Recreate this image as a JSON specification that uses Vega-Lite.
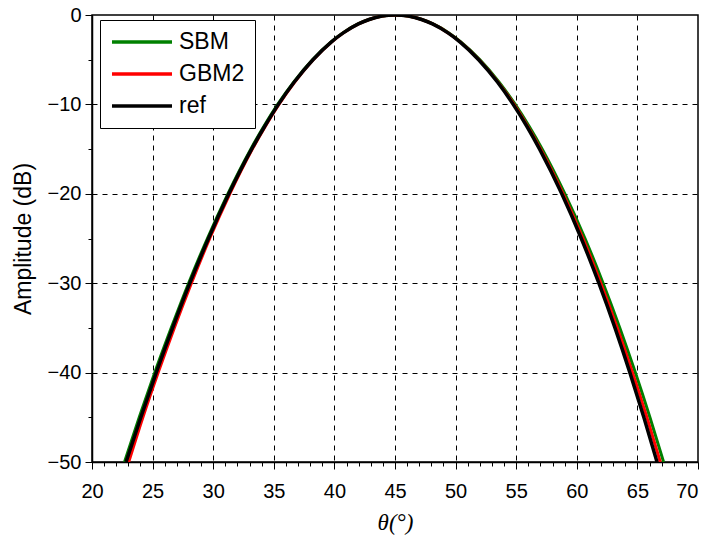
{
  "$schema": "https://vega.github.io/schema/vega-lite/v6.json",
  "width": 606,
  "height": 447,
  "autosize": {"type": "none"},
  "padding": {"left": 92, "top": 15, "right": 10, "bottom": 75},
  "background": "white",
  "config": {
    "view": {"stroke": "black", "strokeWidth": 1.5},
    "axis": {
      "labelFont": "Liberation Sans",
      "labelFontSize": 20,
      "labelColor": "black",
      "titleFont": "Liberation Sans",
      "titleFontSize": 23,
      "titleFontWeight": "normal",
      "titleColor": "black",
      "domainColor": "black",
      "domainWidth": 1.5,
      "tickColor": "black",
      "tickWidth": 1,
      "gridColor": "black",
      "gridWidth": 1,
      "gridDash": [5, 5],
      "labelOverlap": false,
      "labelFlush": false
    },
    "legend": {
      "labelFont": "Liberation Sans",
      "labelFontSize": 23,
      "labelColor": "black"
    }
  },
  "data": {
    "values": [
      {"s": "SBM", "x": 22.68, "y": -50}, {"s": "SBM", "x": 23.90, "y": -45}, {"s": "SBM", "x": 25.18, "y": -40}, {"s": "SBM", "x": 26.54, "y": -35}, {"s": "SBM", "x": 27.97, "y": -30}, {"s": "SBM", "x": 29.52, "y": -25}, {"s": "SBM", "x": 31.21, "y": -20}, {"s": "SBM", "x": 33.10, "y": -15}, {"s": "SBM", "x": 34.16, "y": -12.5}, {"s": "SBM", "x": 35.32, "y": -10}, {"s": "SBM", "x": 36.64, "y": -7.5}, {"s": "SBM", "x": 38.19, "y": -5}, {"s": "SBM", "x": 39.73, "y": -3}, {"s": "SBM", "x": 40.70, "y": -2}, {"s": "SBM", "x": 41.96, "y": -1}, {"s": "SBM", "x": 42.85, "y": -0.5}, {"s": "SBM", "x": 45, "y": 0}, {"s": "SBM", "x": 47.22, "y": -0.5}, {"s": "SBM", "x": 48.14, "y": -1}, {"s": "SBM", "x": 49.44, "y": -2}, {"s": "SBM", "x": 50.43, "y": -3}, {"s": "SBM", "x": 52.01, "y": -5}, {"s": "SBM", "x": 53.59, "y": -7.5}, {"s": "SBM", "x": 54.92, "y": -10}, {"s": "SBM", "x": 56.09, "y": -12.5}, {"s": "SBM", "x": 57.15, "y": -15}, {"s": "SBM", "x": 59.02, "y": -20}, {"s": "SBM", "x": 60.68, "y": -25}, {"s": "SBM", "x": 62.17, "y": -30}, {"s": "SBM", "x": 63.55, "y": -35}, {"s": "SBM", "x": 64.83, "y": -40}, {"s": "SBM", "x": 66.03, "y": -45}, {"s": "SBM", "x": 67.16, "y": -50},
      {"s": "GBM2", "x": 23.03, "y": -50}, {"s": "GBM2", "x": 24.20, "y": -45}, {"s": "GBM2", "x": 25.46, "y": -40}, {"s": "GBM2", "x": 26.79, "y": -35}, {"s": "GBM2", "x": 28.20, "y": -30}, {"s": "GBM2", "x": 29.71, "y": -25}, {"s": "GBM2", "x": 31.37, "y": -20}, {"s": "GBM2", "x": 33.23, "y": -15}, {"s": "GBM2", "x": 34.28, "y": -12.5}, {"s": "GBM2", "x": 35.42, "y": -10}, {"s": "GBM2", "x": 36.72, "y": -7.5}, {"s": "GBM2", "x": 38.25, "y": -5}, {"s": "GBM2", "x": 39.78, "y": -3}, {"s": "GBM2", "x": 40.74, "y": -2}, {"s": "GBM2", "x": 41.99, "y": -1}, {"s": "GBM2", "x": 42.87, "y": -0.5}, {"s": "GBM2", "x": 45, "y": 0}, {"s": "GBM2", "x": 47.20, "y": -0.5}, {"s": "GBM2", "x": 48.11, "y": -1}, {"s": "GBM2", "x": 49.39, "y": -2}, {"s": "GBM2", "x": 50.38, "y": -3}, {"s": "GBM2", "x": 51.94, "y": -5}, {"s": "GBM2", "x": 53.50, "y": -7.5}, {"s": "GBM2", "x": 54.82, "y": -10}, {"s": "GBM2", "x": 55.97, "y": -12.5}, {"s": "GBM2", "x": 57.02, "y": -15}, {"s": "GBM2", "x": 58.87, "y": -20}, {"s": "GBM2", "x": 60.51, "y": -25}, {"s": "GBM2", "x": 61.98, "y": -30}, {"s": "GBM2", "x": 63.34, "y": -35}, {"s": "GBM2", "x": 64.60, "y": -40}, {"s": "GBM2", "x": 65.78, "y": -45}, {"s": "GBM2", "x": 66.89, "y": -50},
      {"s": "ref", "x": 22.81, "y": -50}, {"s": "ref", "x": 24.03, "y": -45}, {"s": "ref", "x": 25.30, "y": -40}, {"s": "ref", "x": 26.65, "y": -35}, {"s": "ref", "x": 28.07, "y": -30}, {"s": "ref", "x": 29.61, "y": -25}, {"s": "ref", "x": 31.29, "y": -20}, {"s": "ref", "x": 33.17, "y": -15}, {"s": "ref", "x": 34.23, "y": -12.5}, {"s": "ref", "x": 35.38, "y": -10}, {"s": "ref", "x": 36.69, "y": -7.5}, {"s": "ref", "x": 38.23, "y": -5}, {"s": "ref", "x": 39.76, "y": -3}, {"s": "ref", "x": 40.73, "y": -2}, {"s": "ref", "x": 41.98, "y": -1}, {"s": "ref", "x": 42.87, "y": -0.5}, {"s": "ref", "x": 45, "y": 0}, {"s": "ref", "x": 47.19, "y": -0.5}, {"s": "ref", "x": 48.09, "y": -1}, {"s": "ref", "x": 49.37, "y": -2}, {"s": "ref", "x": 50.35, "y": -3}, {"s": "ref", "x": 51.90, "y": -5}, {"s": "ref", "x": 53.45, "y": -7.5}, {"s": "ref", "x": 54.75, "y": -10}, {"s": "ref", "x": 55.90, "y": -12.5}, {"s": "ref", "x": 56.93, "y": -15}, {"s": "ref", "x": 58.76, "y": -20}, {"s": "ref", "x": 60.37, "y": -25}, {"s": "ref", "x": 61.82, "y": -30}, {"s": "ref", "x": 63.15, "y": -35}, {"s": "ref", "x": 64.38, "y": -40}, {"s": "ref", "x": 65.53, "y": -45}, {"s": "ref", "x": 66.62, "y": -50}
    ]
  },
  "encoding": {
    "x": {
      "field": "x",
      "type": "quantitative",
      "scale": {"domain": [20, 70], "nice": false, "zero": false},
      "axis": {
        "title": "θ(°)",
        "titleFont": "Liberation Serif",
        "titleFontStyle": "italic",
        "titleFontSize": 23,
        "titlePadding": 10,
        "values": [20,21,22,23,24,25,26,27,28,29,30,31,32,33,34,35,36,37,38,39,40,41,42,43,44,45,46,47,48,49,50,51,52,53,54,55,56,57,58,59,60,61,62,63,64,65,66,67,68,69,70],
        "labelExpr": "datum.value % 5 === 0 ? datum.label : ''",
        "labelPadding": 12,
        "labelAlign": {"condition": {"test": "datum.value === 70", "value": "right"}, "value": "center"},
        "tickSize": {"condition": {"test": "datum.value % 5 === 0", "value": 7}, "value": 4},
        "gridOpacity": {"condition": {"test": "datum.value % 5 === 0 && datum.value > 20 && datum.value < 70", "value": 1}, "value": 0}
      }
    },
    "y": {
      "field": "y",
      "type": "quantitative",
      "scale": {"domain": [-50, 0], "nice": false, "zero": false},
      "axis": {
        "title": "Amplitude (dB)",
        "titlePadding": 12,
        "values": [-50,-45,-40,-35,-30,-25,-20,-15,-10,-5,0],
        "labelExpr": "datum.value % 10 === 0 ? datum.label : ''",
        "labelPadding": 4,
        "tickSize": {"condition": {"test": "datum.value % 10 === 0", "value": 7}, "value": 4},
        "gridOpacity": {"condition": {"test": "datum.value % 10 === 0 && datum.value > -50 && datum.value < 0", "value": 1}, "value": 0}
      }
    },
    "color": {
      "field": "s",
      "type": "nominal",
      "scale": {"domain": ["SBM", "GBM2", "ref"], "range": ["#008000", "#ff0000", "#000000"]},
      "legend": {
        "title": null,
        "orient": "none",
        "legendX": 8,
        "legendY": 5,
        "padding": 10,
        "rowPadding": 8,
        "strokeColor": "black",
        "fillColor": "white",
        "symbolType": "M-1,0H5",
        "symbolSize": 400,
        "symbolStrokeWidth": 3.5,
        "labelOffset": 45
      }
    }
  },
  "layer": [
    {"transform": [{"filter": "datum.s === 'SBM'"}], "mark": {"type": "line", "strokeWidth": 3, "interpolate": "monotone", "clip": true}},
    {"transform": [{"filter": "datum.s === 'GBM2'"}], "mark": {"type": "line", "strokeWidth": 3, "interpolate": "monotone", "clip": true}},
    {"transform": [{"filter": "datum.s === 'ref'"}], "mark": {"type": "line", "strokeWidth": 3.5, "interpolate": "monotone", "clip": true}}
  ]
}
